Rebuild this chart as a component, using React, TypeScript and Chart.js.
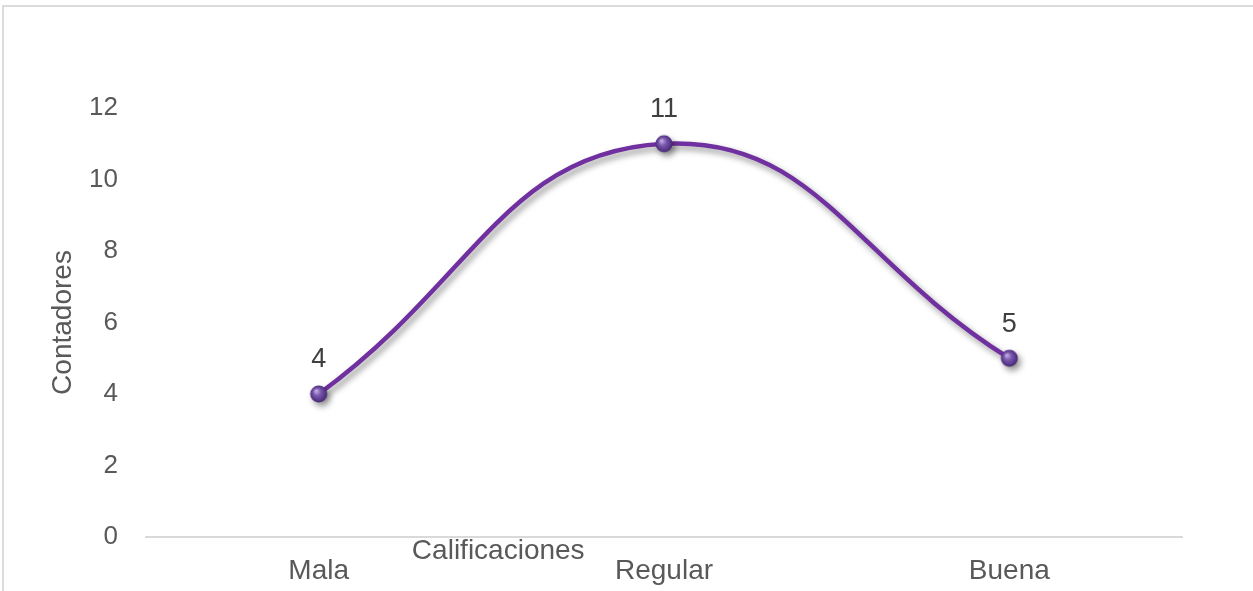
import React, { useEffect, useRef } from "react";
import { Chart, registerables } from "chart.js";

Chart.register(...registerables);

const categories = ["Mala", "Regular", "Buena"];
const values = [4, 11, 5];
const yTicks = [0, 2, 4, 6, 8, 10, 12];
const xTitle = "Calificaciones";
const yTitle = "Contadores";

function makeSphere(): HTMLCanvasElement {
  const size = 20;
  const c = document.createElement("canvas");
  c.width = size;
  c.height = size;
  const g = c.getContext("2d")!;
  const grad = g.createRadialGradient(7.5, 7, 1, 10, 10, 9);
  grad.addColorStop(0, "#b9a3dc");
  grad.addColorStop(0.35, "#7a58ad");
  grad.addColorStop(0.8, "#553487");
  grad.addColorStop(1, "#3a2164");
  g.fillStyle = grad;
  g.beginPath();
  g.arc(10, 10, 8.5, 0, Math.PI * 2);
  g.fill();
  return c;
}

export default function App() {
  const ref = useRef<HTMLCanvasElement>(null);
  useEffect(() => {
    const canvas = ref.current!;
    const sphere = makeSphere();
    const fx = {
      id: "fx",
      beforeDatasetsDraw(chart: any) {
        const ctx = chart.ctx;
        ctx.save();
        ctx.shadowColor = "rgba(0,0,0,0.42)";
        ctx.shadowBlur = 6;
        ctx.shadowOffsetX = 3;
        ctx.shadowOffsetY = 4;
      },
      afterDatasetsDraw(chart: any) {
        const ctx = chart.ctx;
        ctx.restore();
        ctx.save();
        const meta = chart.getDatasetMeta(0);
        ctx.fillStyle = "#404040";
        ctx.font = "27px 'Liberation Sans', Arial, sans-serif";
        ctx.textAlign = "center";
        ctx.textBaseline = "middle";
        meta.data.forEach((pt: any, i: number) => {
          ctx.fillText(String(values[i]), pt.x, pt.y - 34);
        });
        const xs = chart.scales.x;
        ctx.fillStyle = "#595959";
        ctx.font = "28px 'Liberation Sans', Arial, sans-serif";
        ctx.fillText(xTitle, xs.getPixelForValue(0.52), xs.top + 14);
        ctx.restore();
      },
    };
    const chart = new Chart(canvas, {
      type: "line",
      data: {
        labels: categories,
        datasets: [
          {
            data: values,
            borderColor: "#7030A0",
            borderWidth: 4.5,
            tension: 0.45,
            pointStyle: sphere as any,
            pointRadius: 9,
            pointHoverRadius: 9,
            fill: false,
          },
        ],
      },
      options: {
        responsive: false,
        animation: false,
        layout: { padding: { left: 0, top: 108, right: 71, bottom: 0 } },
        plugins: { legend: { display: false }, tooltip: { enabled: false } },
        scales: {
          x: {
            offset: true,
            grid: { display: false, drawTicks: false },
            border: { display: true, color: "#d9d9d9", width: 2 },
            ticks: {
              color: "#595959",
              font: { size: 28, family: "'Liberation Sans', Arial, sans-serif" },
              padding: 17,
              maxRotation: 0,
            },
            afterFit: (s: any) => {
              s.height = 54;
            },
          },
          y: {
            min: yTicks[0],
            max: yTicks[yTicks.length - 1],
            afterBuildTicks: (s: any) => {
              s.ticks = yTicks.map((v) => ({ value: v }));
            },
            grid: { display: false, drawTicks: false },
            border: { display: false },
            ticks: {
              color: "#595959",
              font: { size: 26, family: "'Liberation Sans', Arial, sans-serif" },
              padding: 28,
            },
            title: {
              display: true,
              text: yTitle,
              color: "#595959",
              font: { size: 28, family: "'Liberation Sans', Arial, sans-serif" },
              padding: { top: 46, bottom: 0 },
            },
            afterFit: (s: any) => {
              s.width = 146;
            },
          },
        },
      },
      plugins: [fx],
    });
    return () => chart.destroy();
  }, []);
  return (
    <div style={{ position: "fixed", left: 0, top: 0, width: 1253, height: 591, overflow: "hidden", background: "#fff" }}>
      <div
        style={{
          position: "absolute",
          left: 2,
          top: 5,
          width: 1400,
          height: 800,
          border: "2px solid #dcdcdc",
        }}
      />
      <canvas
        ref={ref}
        width={1253}
        height={591}
        style={{ position: "absolute", left: 0, top: 0, width: 1253, height: 591 }}
      />
    </div>
  );
}
